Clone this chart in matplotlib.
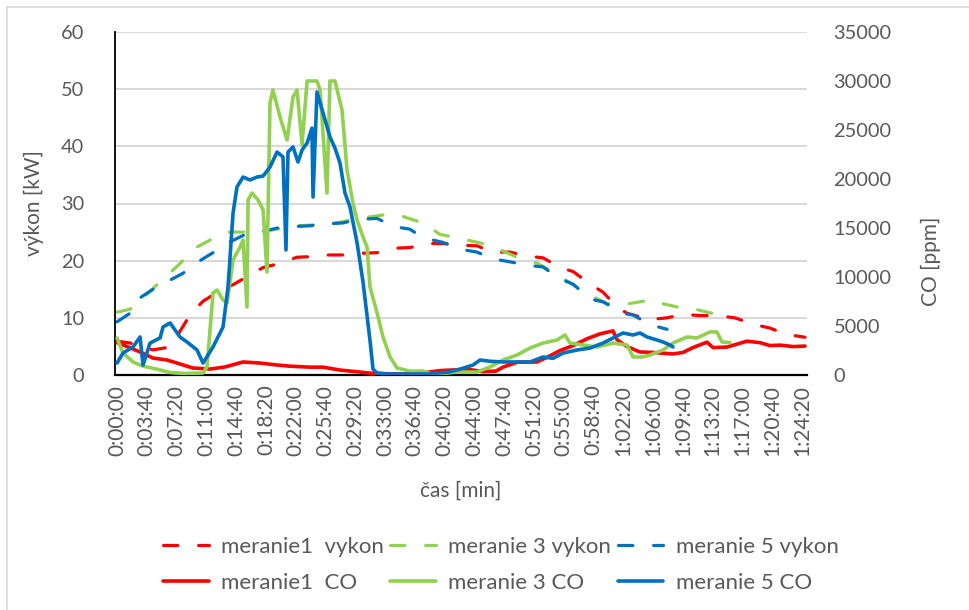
import matplotlib
matplotlib.use("Agg")
import matplotlib.pyplot as plt
from matplotlib.lines import Line2D

plt.rcParams['font.family'] = ['Lato', 'DejaVu Sans']

# Time axis (seconds from start) and its tick labels
tick_seconds = [i * 220 for i in range(24)]
tick_labels = ["0:00:00", "0:03:40", "0:07:20", "0:11:00", "0:14:40", "0:18:20",
               "0:22:00", "0:25:40", "0:29:20", "0:33:00", "0:36:40", "0:40:20",
               "0:44:00", "0:47:40", "0:51:20", "0:55:00", "0:58:40", "1:02:20",
               "1:06:00", "1:09:40", "1:13:20", "1:17:00", "1:20:40", "1:24:20"]

# Power output [kW]
m1_vykon_t = [0, 96, 192, 266, 369, 443, 539, 635, 709, 857, 931, 1079, 1182, 1330, 1426,
              1573, 1699, 1817, 1921, 2068, 2164, 2312, 2408, 2534, 2659, 2778, 2903, 3029,
              3147, 3273, 3369, 3494, 3590, 3694, 3767, 3937, 4063, 4181, 4307, 4432, 4565,
              4698, 4824, 4949, 5082]
m1_vykon = [5.9, 5.6, 4.8, 4.4, 4.8, 6.8, 10.5, 12.9, 14.0, 15.8, 16.8, 18.8, 19.4, 20.6, 20.7,
            21.0, 21.0, 21.3, 21.4, 22.2, 22.3, 23.0, 23.0, 22.7, 22.6, 21.5, 21.5, 20.8,
            20.5, 18.8, 18.1, 15.9, 14.5, 11.9, 10.8, 9.7, 10.0, 10.6, 10.4, 10.4, 10.0,
            8.9, 8.2, 7.1, 6.6]

m3_vykon_t = [0, 96, 229, 295, 443, 591, 687, 813, 968, 1100, 1330, 1573, 1795, 1994, 2090,
              2260, 2386, 2534, 2755, 2955, 3100, 3250, 3472, 3620, 3740, 3886, 3960, 4011,
              4137, 4255, 4395, 4528]
m3_vykon = [11.0, 11.5, 14.3, 15.8, 19.0, 22.4, 23.6, 25.0, 25.0, 25.2, 26.1, 26.4, 27.4, 28.1,
            27.9, 26.6, 24.6, 23.9, 22.7, 20.6, 19.6, 17.6, 14.2, 12.5, 12.3, 12.9, 13.2, 12.6,
            11.9, 11.6, 10.8, 10.4]

m5_vykon_t = [0, 96, 170, 266, 392, 488, 613, 709, 835, 931, 1056, 1182, 1330, 1426, 1522,
              1669, 1773, 1921, 2039, 2164, 2260, 2408, 2534, 2659, 2778, 2903, 3029, 3147,
              3273, 3369, 3494, 3590, 3738, 3812, 3937, 4063]
m5_vykon = [9.3, 10.8, 13.5, 15.0, 16.6, 17.8, 20.0, 21.4, 23.3, 24.4, 25.0, 25.7, 26.0, 26.1,
            26.4, 26.6, 27.2, 27.4, 26.0, 25.5, 24.0, 23.2, 22.0, 21.5, 20.3, 19.8, 19.2, 18.9,
            16.8, 15.9, 13.3, 12.8, 10.8, 10.5, 8.8, 8.0]

# CO concentration [ppm]
m1_co_t = [0, 74, 170, 266, 369, 443, 561, 687, 798, 931, 1056, 1182, 1278, 1426, 1522, 1650,
           1760, 1860, 1921, 2100, 2250, 2386, 2534, 2608, 2700, 2800, 2851, 2955, 3103, 3176,
           3273, 3369, 3472, 3568, 3664, 3694, 3767, 3863, 3959, 4107, 4181, 4255, 4358, 4403,
           4506, 4654, 4750, 4824, 4898, 4994, 5082]
m1_co = [3300, 2900, 2350, 1730, 1530, 1220, 710, 610, 820, 1330, 1220, 1020, 900, 800, 800,
         500, 350, 200, 150, 100, 200, 450, 550, 550, 350, 400, 800, 1300, 1330, 1800, 2500,
         3000, 3700, 4200, 4500, 3600, 2900, 2350, 2300, 2150, 2300, 2800, 3350, 2800, 2850,
         3450, 3300, 3000, 3050, 2900, 2950]

m3_co_t = [0, 44, 118, 192, 295, 392, 500, 635, 665, 709, 739, 783, 813, 857, 909, 931, 960,
           968, 997, 1042, 1079, 1108, 1130, 1152, 1204, 1256, 1300, 1330, 1367, 1404, 1477,
           1500, 1551, 1573, 1610, 1662, 1699, 1743, 1773, 1817, 1847, 1869, 1921, 1965, 2017,
           2068, 2164, 2260, 2334, 2512, 2659, 2755, 2851, 2955, 3051, 3147, 3250, 3309, 3346,
           3442, 3546, 3664, 3767, 3812, 3886, 3937, 4033, 4107, 4211, 4285, 4380, 4432, 4469,
           4528]
m3_co = [3780, 2240, 1330, 900, 600, 250, 150, 200, 820, 8370, 8670, 7650, 7350, 11730, 13060,
         13780, 6940, 17860, 18570, 17860, 16840, 10510, 27750, 29080, 26330, 23980, 28370,
         29080, 23500, 30000, 30000, 29080, 18570, 30000, 30000, 27040, 20920, 17550, 15820,
         14080, 13060, 8980, 6330, 3880, 1840, 710, 400, 400, 50, 300, 300, 820, 1530, 2040,
         2750, 3260, 3570, 4080, 3260, 3060, 2860, 3260, 3060, 1840, 1840, 2040, 2550, 3260,
         3880, 3780, 4390, 4390, 3370, 3300]

m5_co_t = [0, 44, 118, 170, 192, 244, 318, 340, 392, 465, 517, 591, 635, 709, 783, 820, 857,
           886, 931, 982, 1034, 1079, 1130, 1182, 1226, 1248, 1263, 1300, 1337, 1367, 1404,
           1440, 1448, 1477, 1522, 1573, 1610, 1647, 1684, 1721, 1773, 1817, 1869, 1891, 1921,
           2000, 2300, 2450, 2534, 2630, 2682, 2755, 2851, 2955, 3051, 3147, 3221, 3295, 3398,
           3494, 3590, 3664, 3738, 3812, 3863, 3915, 3989, 4033, 4085, 4107]
m5_co = [1220, 2240, 2860, 3880, 1020, 3260, 3780, 4900, 5310, 3880, 3370, 2550, 1220, 2860,
         4900, 8980, 16530, 19180, 20200, 19900, 20200, 20300, 21220, 22750, 22250, 12760,
         22750, 23270, 21730, 22960, 23670, 25200, 18160, 28880, 26740, 24290, 23160, 21630,
         18570, 17140, 13500, 9500, 3500, 600, 200, 100, 100, 300, 600, 1020, 1530, 1400, 1330,
         1330, 1330, 1840, 1700, 2240, 2550, 2750, 3260, 3780, 4290, 4080, 4290, 3880, 3570,
         3370, 3060, 2860]

RED = "#FF0000"
GREEN = "#92D050"
BLUE = "#0070C0"
TEXT = "#595959"
GRID = "#D9D9D9"

fig = plt.figure(figsize=(9.69, 6.10), dpi=100)
fig.patch.set_facecolor("white")

ax = fig.add_axes([115 / 969, 1 - 375 / 610, (807 - 115) / 969, (375 - 32) / 610])
ax2 = ax.twinx()

dash_kw = dict(linewidth=2.3, linestyle=(0, (4.5, 6.5)), dash_capstyle="round")
solid_kw = dict(linewidth=2.6, solid_capstyle="round", solid_joinstyle="round")

l1v, = ax.plot(m1_vykon_t, m1_vykon, color=RED, **dash_kw)
l3v, = ax.plot(m3_vykon_t, m3_vykon, color=GREEN, **dash_kw)
l5v, = ax.plot(m5_vykon_t, m5_vykon, color=BLUE, **dash_kw)

l1c, = ax2.plot(m1_co_t, m1_co, color=RED, **solid_kw)
l3c, = ax2.plot(m3_co_t, m3_co, color=GREEN, **solid_kw)
l5c, = ax2.plot(m5_co_t, m5_co, color=BLUE, **solid_kw)

ax.set_xlim(-15, 5097)
ax.set_ylim(0, 60)
ax2.set_ylim(0, 35000)
ax.set_yticks(range(0, 61, 10))
ax2.set_yticks(range(0, 35001, 5000))
ax.set_xticks(tick_seconds)
ax.set_xticklabels(tick_labels, rotation=90)

ax.grid(axis="y", color=GRID, linewidth=1.5)
ax.set_axisbelow(True)

for s in ("top", "right"):
    ax.spines[s].set_visible(False)
for s in ax2.spines.values():
    s.set_visible(False)
ax.spines["left"].set_color("black")
ax.spines["left"].set_linewidth(1.3)
ax.spines["bottom"].set_color("black")
ax.spines["bottom"].set_linewidth(1.6)

ax.tick_params(axis="y", length=0, pad=22, labelsize=14.4, labelcolor=TEXT)
ax.tick_params(axis="x", length=0, pad=7, labelsize=15, labelcolor=TEXT)
ax2.tick_params(axis="y", length=0, pad=19, labelsize=14.4, labelcolor=TEXT)

ax.set_ylabel("výkon [kW]", fontsize=15, color=TEXT)
ax.yaxis.set_label_coords(-71 / 692, 0.5)
ax2.set_ylabel("CO [ppm]", fontsize=15, color=TEXT)
ax2.yaxis.set_label_coords(1 + 114 / 692, (375 - 261) / 343)
ax.set_xlabel("čas [min]", fontsize=15, color=TEXT)
ax.xaxis.set_label_coords(0.5, -(481 - 375) / 343)

handles = [l1v, l1c, l3v, l3c, l5v, l5c]
labels = ["meranie1  vykon", "meranie1  CO", "meranie 3 vykon", "meranie 3 CO",
          "meranie 5 vykon", "meranie 5 CO"]
leg = fig.legend(handles, labels, ncol=3, loc="upper left",
                 bbox_to_anchor=(152 / 969, 1 - 526 / 610), frameon=False,
                 fontsize=16, handlelength=2.05, handletextpad=0.55,
                 columnspacing=0.3, labelspacing=0.72, borderpad=0.0)
for t in leg.get_texts():
    t.set_color(TEXT)

# light chart-area border
fig.add_artist(Line2D([7 / 969, 7 / 969], [0, 1 - 7 / 610], color=GRID, linewidth=1.2))
fig.add_artist(Line2D([7 / 969, 1], [1 - 7 / 610, 1 - 7 / 610], color=GRID, linewidth=1.2))

fig.savefig("out.png", dpi=100)
